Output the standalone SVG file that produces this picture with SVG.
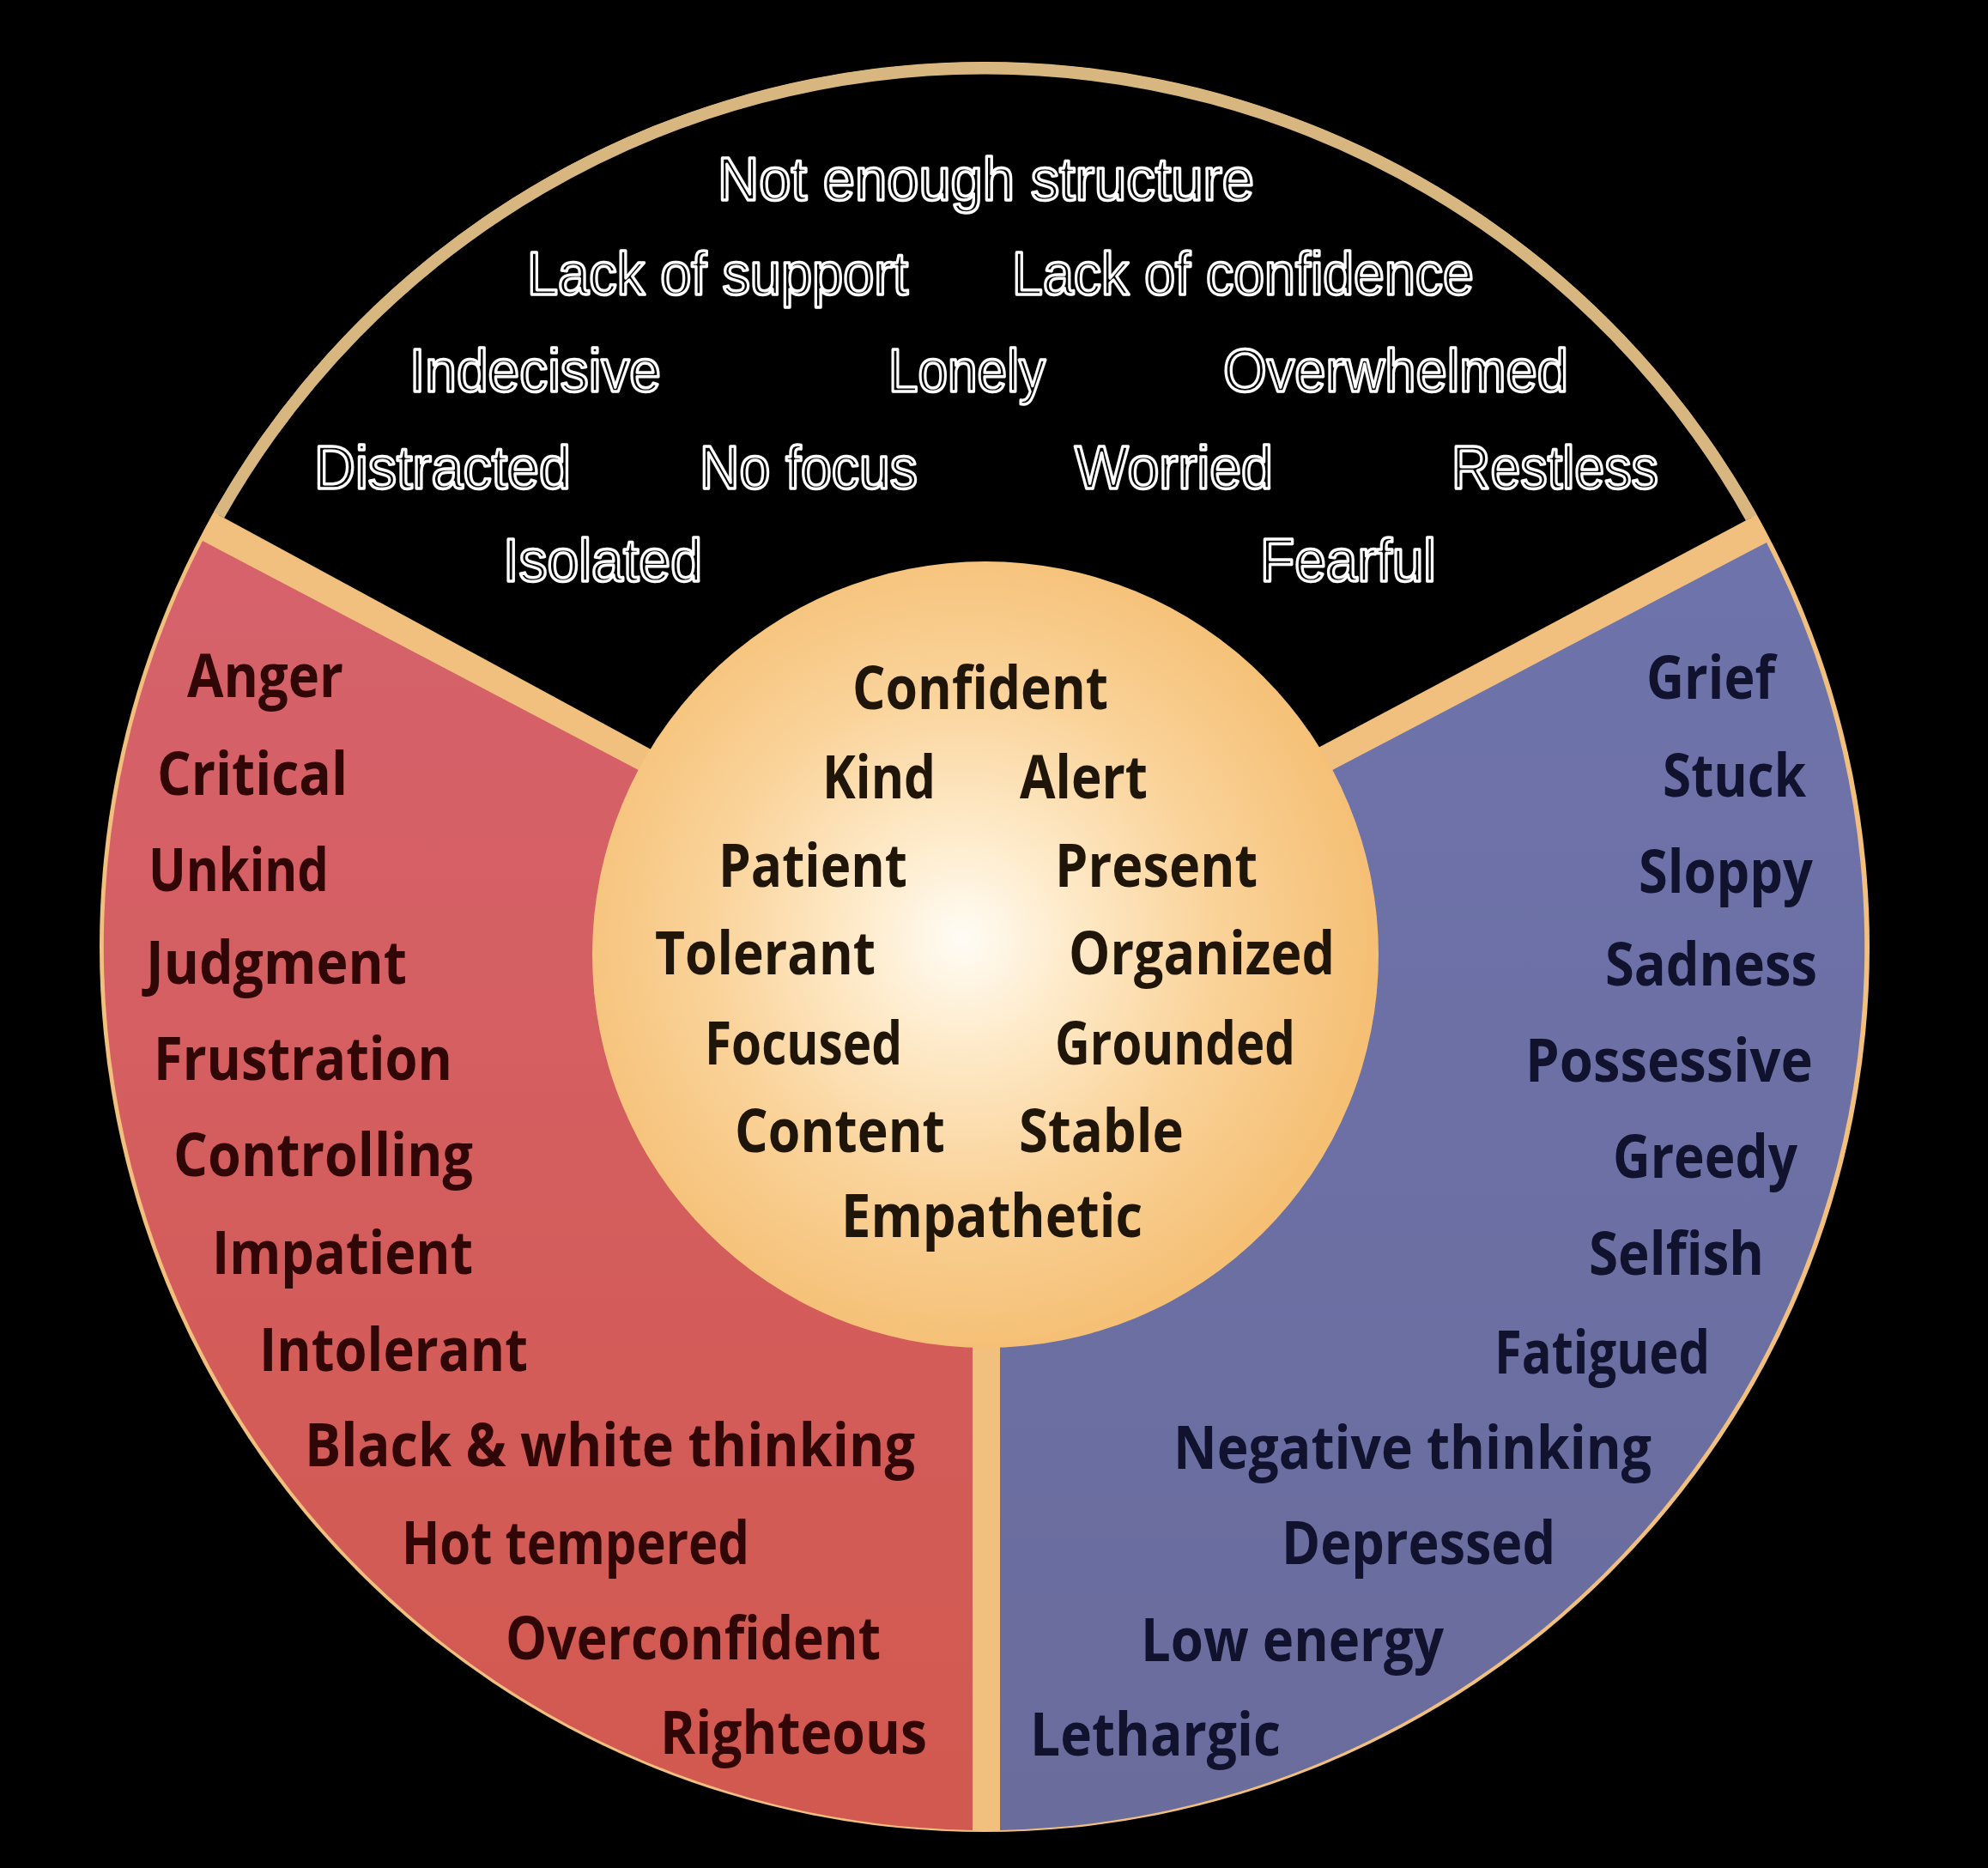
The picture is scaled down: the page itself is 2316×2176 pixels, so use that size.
<svg xmlns="http://www.w3.org/2000/svg" width="2316" height="2176" viewBox="0 0 2316 2176">
<defs>
<linearGradient id="redG" x1="0" y1="0" x2="0" y2="1"><stop offset="0" stop-color="#d6626c"/><stop offset="1" stop-color="#d2594f"/></linearGradient>
<linearGradient id="blueG" x1="0" y1="0" x2="0" y2="1"><stop offset="0" stop-color="#6e73ab"/><stop offset="1" stop-color="#6a6c9c"/></linearGradient>
<radialGradient id="goldG" cx="0.47" cy="0.48" r="0.53"><stop offset="0" stop-color="#fffcf5"/><stop offset="0.25" stop-color="#feebcb"/><stop offset="0.6" stop-color="#fad39a"/><stop offset="1" stop-color="#f5bf74"/></radialGradient>
<style>
.out{font-family:"Liberation Sans",Arial,sans-serif;font-size:71px;fill:#000;stroke:#fff;stroke-width:3.5px;stroke-linejoin:round}
.w{font-family:"Open Sans","Noto Sans",sans-serif;font-weight:700;font-size:70px}
.r{fill:#300606}
.b{fill:#10122e}
.c{fill:#1f1609}
</style>
</defs>
<rect width="2316" height="2176" fill="#000"/>
<g id="wheel">
<circle cx="1147" cy="1103" r="1031" fill="#f1c07e"/>
<path id="top-region" d="M255,600 A1024,1024 0 0 1 2040,603 L1530,874 L1148,1000 L766,877 Z" fill="#000"/>
<path d="M255,600 A1024,1024 0 0 1 2040,603" fill="none" stroke="#d7b680" stroke-width="14"/>
<path id="red-region" d="M236,630 L742,896 L1000,1030 L1133,1100 L1133,2132 A1029,1029 0 0 1 236,630 Z" fill="url(#redG)"/>
<path id="blue-region" d="M2058,632 L1556,895 L1300,1030 L1165,1100 L1165,2132 A1029,1029 0 0 0 2058,632 Z" fill="url(#blueG)"/>
<circle id="center-circle" cx="1148" cy="1112" r="458" fill="url(#goldG)"/>
</g>
<g id="top-labels" class="out">
<text x="836" y="233" textLength="625" lengthAdjust="spacingAndGlyphs">Not enough structure</text>
<text x="614" y="343" textLength="444" lengthAdjust="spacingAndGlyphs">Lack of support</text>
<text x="1179" y="343" textLength="538" lengthAdjust="spacingAndGlyphs">Lack of confidence</text>
<text x="477" y="456" textLength="293" lengthAdjust="spacingAndGlyphs">Indecisive</text>
<text x="1035" y="456" textLength="183" lengthAdjust="spacingAndGlyphs">Lonely</text>
<text x="1425" y="456" textLength="402" lengthAdjust="spacingAndGlyphs">Overwhelmed</text>
<text x="366" y="569" textLength="299" lengthAdjust="spacingAndGlyphs">Distracted</text>
<text x="815" y="569" textLength="254" lengthAdjust="spacingAndGlyphs">No focus</text>
<text x="1252" y="569" textLength="231" lengthAdjust="spacingAndGlyphs">Worried</text>
<text x="1691" y="569" textLength="241" lengthAdjust="spacingAndGlyphs">Restless</text>
<text x="586" y="677" textLength="232" lengthAdjust="spacingAndGlyphs">Isolated</text>
<text x="1468" y="677" textLength="205" lengthAdjust="spacingAndGlyphs">Fearful</text>
</g>
<g id="red-labels" class="w r">
<text x="218" y="812" textLength="182" lengthAdjust="spacingAndGlyphs">Anger</text>
<text x="183" y="926" textLength="222" lengthAdjust="spacingAndGlyphs">Critical</text>
<text x="173" y="1038" textLength="210" lengthAdjust="spacingAndGlyphs">Unkind</text>
<text x="170" y="1146" textLength="304" lengthAdjust="spacingAndGlyphs">Judgment</text>
<text x="179" y="1258" textLength="348" lengthAdjust="spacingAndGlyphs">Frustration</text>
<text x="202" y="1370" textLength="349" lengthAdjust="spacingAndGlyphs">Controlling</text>
<text x="247" y="1484" textLength="304" lengthAdjust="spacingAndGlyphs">Impatient</text>
<text x="302" y="1597" textLength="313" lengthAdjust="spacingAndGlyphs">Intolerant</text>
<text x="355" y="1708" textLength="711" lengthAdjust="spacingAndGlyphs">Black &amp; white thinking</text>
<text x="468" y="1822" textLength="405" lengthAdjust="spacingAndGlyphs">Hot tempered</text>
<text x="589" y="1933" textLength="437" lengthAdjust="spacingAndGlyphs">Overconfident</text>
<text x="769" y="2043" textLength="311" lengthAdjust="spacingAndGlyphs">Righteous</text>
</g>
<g id="center-labels" class="w c">
<text x="993" y="826" textLength="298" lengthAdjust="spacingAndGlyphs">Confident</text>
<text x="958" y="930" textLength="132" lengthAdjust="spacingAndGlyphs">Kind</text>
<text x="1188" y="930" textLength="149" lengthAdjust="spacingAndGlyphs">Alert</text>
<text x="837" y="1033" textLength="220" lengthAdjust="spacingAndGlyphs">Patient</text>
<text x="1229" y="1033" textLength="236" lengthAdjust="spacingAndGlyphs">Present</text>
<text x="763" y="1135" textLength="257" lengthAdjust="spacingAndGlyphs">Tolerant</text>
<text x="1245" y="1135" textLength="310" lengthAdjust="spacingAndGlyphs">Organized</text>
<text x="821" y="1240" textLength="230" lengthAdjust="spacingAndGlyphs">Focused</text>
<text x="1229" y="1240" textLength="280" lengthAdjust="spacingAndGlyphs">Grounded</text>
<text x="856" y="1342" textLength="245" lengthAdjust="spacingAndGlyphs">Content</text>
<text x="1187" y="1342" textLength="192" lengthAdjust="spacingAndGlyphs">Stable</text>
<text x="980" y="1441" textLength="351" lengthAdjust="spacingAndGlyphs">Empathetic</text>
</g>
<g id="blue-labels" class="w b">
<text x="1918" y="814" textLength="150" lengthAdjust="spacingAndGlyphs">Grief</text>
<text x="1937" y="928" textLength="167" lengthAdjust="spacingAndGlyphs">Stuck</text>
<text x="1909" y="1040" textLength="203" lengthAdjust="spacingAndGlyphs">Sloppy</text>
<text x="1870" y="1148" textLength="247" lengthAdjust="spacingAndGlyphs">Sadness</text>
<text x="1777" y="1260" textLength="335" lengthAdjust="spacingAndGlyphs">Possessive</text>
<text x="1879" y="1372" textLength="215" lengthAdjust="spacingAndGlyphs">Greedy</text>
<text x="1851" y="1485" textLength="204" lengthAdjust="spacingAndGlyphs">Selfish</text>
<text x="1741" y="1600" textLength="251" lengthAdjust="spacingAndGlyphs">Fatigued</text>
<text x="1367" y="1711" textLength="557" lengthAdjust="spacingAndGlyphs">Negative thinking</text>
<text x="1493" y="1822" textLength="319" lengthAdjust="spacingAndGlyphs">Depressed</text>
<text x="1329" y="1935" textLength="353" lengthAdjust="spacingAndGlyphs">Low energy</text>
<text x="1200" y="2045" textLength="292" lengthAdjust="spacingAndGlyphs">Lethargic</text>
</g>
</svg>
